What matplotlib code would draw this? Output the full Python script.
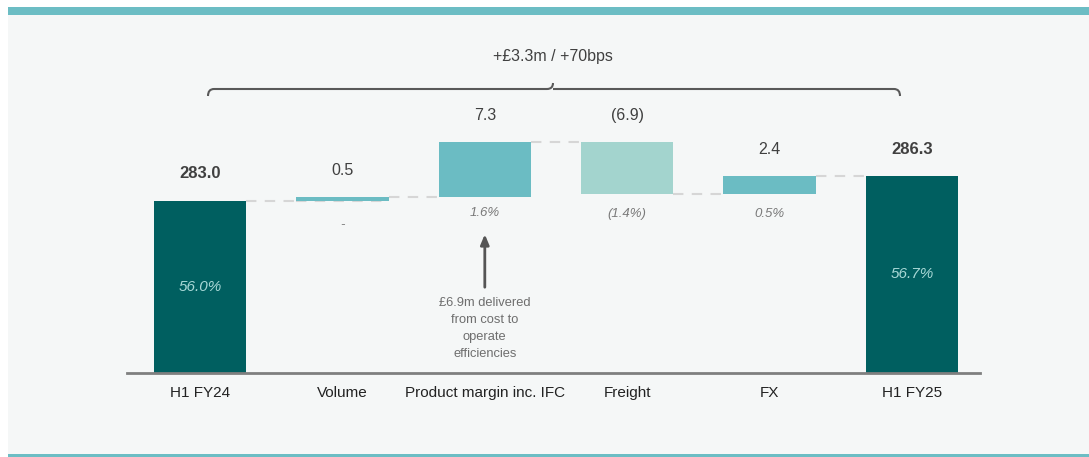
import matplotlib
matplotlib.use('Agg')
import matplotlib.pyplot as plt
import numpy as np
from matplotlib.patches import Rectangle
from matplotlib.path import Path
from matplotlib.patches import PathPatch

plt.rcParams['font.family'] = ['Liberation Sans', 'DejaVu Sans']

# --- data ---
categories = ['H1 FY24', 'Volume', 'Product margin inc. IFC', 'Freight', 'FX', 'H1 FY25']
start_total = 283.0
end_total = 286.3
changes = [0.5, 7.3, -6.9, 2.4]
value_labels = ['283.0', '0.5', '7.3', '(6.9)', '2.4', '286.3']
pct_labels = ['56.0%', '-', '1.6%', '(1.4%)', '0.5%', '56.7%']
title_text = '+£3.3m / +70bps'
note_text = '£6.9m delivered\nfrom cost to\noperate\nefficiencies'

DARK = '#005f60'
MID = '#6bbcc3'
LIGHT = '#a3d4ce'
TXT = '#404040'
GREY = '#7a7a7a'

W, H = 1089, 457
fig = plt.figure(figsize=(W / 100, H / 100), dpi=100, facecolor='white')

# background decoration in pixel coords
bg = fig.add_axes([0, 0, 1, 1], zorder=0)
bg.set_xlim(0, W)
bg.set_ylim(H, 0)
bg.axis('off')
bg.add_patch(Rectangle((8, 7), W - 8, H - 7, color='#f5f7f7', lw=0))
bg.add_patch(Rectangle((8, 7), W - 8, 8, color='#6cbdc4', lw=0))
bg.add_patch(Rectangle((8, 454), W - 8, 3, color='#6cbdc4', lw=0))

# brace
xl, xr, xm, yb = 208, 900, 553, 89
verts = [(xl, yb + 7), (xl, yb), (xl + 6, yb), (xm - 6, yb), (xm, yb), (xm, yb - 6),
         (xm, yb), (xm + 6, yb), (xr - 6, yb), (xr, yb), (xr, yb + 7)]
codes = [Path.MOVETO, Path.CURVE3, Path.CURVE3, Path.LINETO, Path.CURVE3, Path.CURVE3,
         Path.MOVETO, Path.CURVE3, Path.LINETO, Path.CURVE3, Path.CURVE3]
bg.add_patch(PathPatch(Path(verts, codes), fill=False, edgecolor='#595959', lw=1.5))
bg.text(xm, 57, title_text, ha='center', va='center', fontsize=11.5, color=TXT)

# main waterfall
ax = fig.add_axes([127 / W, (H - 372.5) / H, 853 / W, 272.5 / H], zorder=1)
ax.set_facecolor('none')
ymin = 260.1
ax.set_ylim(ymin, ymin + 272.5 / 7.5)
ax.set_xlim(-0.513, 5.478)

x = np.arange(len(categories))
running = [start_total]
for c in changes:
    running.append(running[-1] + c)
bottoms = [ymin] + [min(running[i], running[i + 1]) for i in range(len(changes))] + [ymin]
heights = [start_total - ymin] + [abs(c) for c in changes] + [end_total - ymin]
tops = [b + h for b, h in zip(bottoms, heights)]
colors = [DARK] + [MID if c > 0 else LIGHT for c in changes] + [DARK]

bw = 0.65
ax.bar(x, heights, bottom=bottoms, width=bw, color=colors, zorder=2)

# connectors
levels = running + [end_total]
for i in range(len(categories) - 1):
    ax.plot([x[i] + bw / 2, x[i + 1] - bw / 2], [levels[i], levels[i]],
            color='#d6d6d6', lw=1.5, dashes=(5, 4), zorder=1)
ax.plot([x[1] - bw / 2, x[1] + bw / 2], [start_total, start_total],
        color='#d6d6d6', lw=1.5, dashes=(5, 4), zorder=1)

# value labels
for i in range(len(categories)):
    bold = i in (0, len(categories) - 1)
    ax.annotate(value_labels[i], (x[i], tops[i]), xytext=(0, 19.4), textcoords='offset points',
                ha='center', va='center', fontsize=11.5 if not bold else 12,
                fontweight='bold' if bold else 'normal', color=TXT)

# percent labels
for i in (0, len(categories) - 1):
    ax.text(x[i], (ymin + tops[i]) / 2, pct_labels[i], ha='center', va='center',
            fontsize=11, style='italic', color='#a8d8d6')
offs = [-17.5, -11.5, -14.4, -14.4]
for j, i in enumerate(range(1, len(categories) - 1)):
    ax.annotate(pct_labels[i], (x[i], bottoms[i]), xytext=(0, offs[j]), textcoords='offset points',
                ha='center', va='center', fontsize=9.5, style='italic', color=GREY)

# arrow + note
ax.annotate('', xy=(2, 278.9), xytext=(2, 271.1),
            arrowprops=dict(arrowstyle='-|>,head_width=0.25,head_length=0.6', color='#555555', lw=2),
            zorder=3)
ax.text(2, 270.2, note_text, ha='center', va='top', fontsize=9.3, color='#6e6e6e', linespacing=1.55)

for s in ['top', 'right', 'left']:
    ax.spines[s].set_visible(False)
ax.spines['bottom'].set_color('#7f7f7f')
ax.spines['bottom'].set_linewidth(2)
ax.set_yticks([])
ax.set_xticks(x)
ax.set_xticklabels(categories, fontsize=11, color='#222222')
ax.tick_params(axis='x', length=0, pad=9.5)

fig.savefig('out.png', dpi=100, facecolor='white')
